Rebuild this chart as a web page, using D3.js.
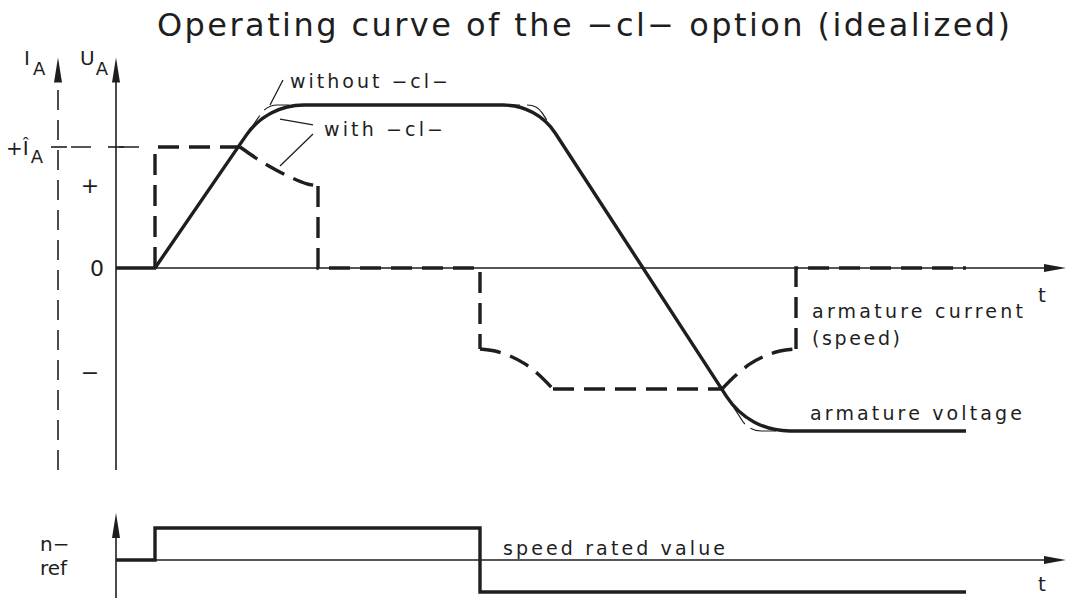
<!DOCTYPE html>
<html>
<head>
<meta charset="utf-8">
<script src="https://cdn.jsdelivr.net/npm/d3@7"></script>
<style>
  body { margin: 0; background: #fff; }
  text { font-family: "DejaVu Sans", sans-serif; font-weight: 400; fill: #1e1e1e; }
</style>
</head>
<body>
<div id="canvas"></div>
<script>
"use strict"

// DATA (time t in arbitrary units, signals normalised: current 1 = +I^A)

// armature voltage, sharp corners of the ideal trace
let voltage = [[0, 0], [3.9, 0], [15.1, 1.347], [42.1, 1.347], [63.3, -1.347], [85, -1.347]];

let currentRise = [[3.9, 0], [3.9, 1], [12.4, 1]];
let currentDecay = [[12.4, 1.0], [13.4, 0.942], [14.6, 0.876], [16.0, 0.81], [17.6, 0.744], [19.0, 0.698], [20.2, 0.678]];
let currentDrop = [[20.2, 0.678], [20.2, 0], [36.4, 0], [36.4, -0.669]];
let currentFall = [[36.4, -0.669], [37.9, -0.686], [39.4, -0.727], [40.9, -0.793], [42.2, -0.876], [43.7, -1.0]];
let currentHold = [[43.7, -1], [60.6, -1]];
let currentRecover = [[60.6, -1.0], [61.9, -0.893], [63.4, -0.793], [64.9, -0.727], [66.4, -0.686], [68.0, -0.669]];
let currentEnd = [[68, -0.669], [68, 0], [85, 0]];

// speed reference (n-ref)
let speedRef = [[0, 0], [3.9, 0], [3.9, 1], [36.4, 1], [36.4, -1], [85, -1]];

// leader lines of the two notes
let leaderWithout = [[16.7, 1.554], [15.4, 1.347]];
let leaderWith1 = [[19.7, 1.182], [16.4, 1.231]];
let leaderWith2 = [[19.7, 1.107], [16.4, 0.843]];

let titleText = "Operating curve of the \u2212cl\u2212 option (idealized)";
let noteTexts = ["without \u2212cl\u2212", "with \u2212cl\u2212"];
let traceTexts = ["armature current", "(speed)", "armature voltage", "speed rated value"];
let levelTexts = ["+", "0", "\u2212"];

// DRAWING SETUP
let svgWidth = 1071;
let svgHeight = 598;
let ink = "#1e1e1e";

let svg = d3.select("#canvas")
  .append("svg")
  .attr("width", svgWidth)
  .attr("height", svgHeight);

let x = d3.scaleLinear().domain([0, 95]).range([116, 1066]);
let yMain = d3.scaleLinear().domain([0, 1]).range([268, 147]);
let ySpeed = d3.scaleLinear().domain([0, 1]).range([560, 528]);

let iAxisT = -5.8;        // dashed current axis
let mainTop = 1.74;
let mainBottom = -1.67;
let speedTop = 1.47;
let speedBottom = -1.19;

let lineMain = d3.line().x(d => x(d[0])).y(d => yMain(d[1]));
let smoothMain = d3.line().x(d => x(d[0])).y(d => yMain(d[1])).curve(d3.curveMonotoneX);
let lineSpeed = d3.line().x(d => x(d[0])).y(d => ySpeed(d[1]));

// polyline with tangent arcs in its corners
function rounded(pts, radius) {
  let p = d3.path();
  let P = pts.map(d => [x(d[0]), yMain(d[1])]);
  p.moveTo(P[0][0], P[0][1]);
  for (let i = 1; i < P.length - 1; i++) {
    if (radius[i] > 0) {
      p.arcTo(P[i][0], P[i][1], P[i + 1][0], P[i + 1][1], radius[i]);
    } else {
      p.lineTo(P[i][0], P[i][1]);
    }
  }
  p.lineTo(P[P.length - 1][0], P[P.length - 1][1]);
  return p.toString();
}

function arrowUp(cx, tip) {
  svg.append("path")
    .attr("d", `M${cx},${tip} L${cx - 4},${tip + 25} L${cx + 4},${tip + 25} Z`)
    .attr("fill", ink);
}
function arrowRight(tip, cy) {
  svg.append("path")
    .attr("d", `M${tip},${cy} L${tip - 22},${cy - 4} L${tip - 22},${cy + 4} Z`)
    .attr("fill", ink);
}

// TITLE
svg.append("text")
  .attr("x", 157)
  .attr("y", 36)
  .attr("textLength", 853)
  .attr("lengthAdjust", "spacing")
  .style("font-size", "32px")
  .text(titleText);

// MAIN AXES
svg.append("line")
  .attr("x1", x(0)).attr("y1", yMain(mainBottom))
  .attr("x2", x(0)).attr("y2", yMain(mainTop) + 20)
  .attr("stroke", ink).attr("stroke-width", 1.6);
arrowUp(x(0), yMain(mainTop));

svg.append("line")
  .attr("x1", x(iAxisT)).attr("y1", yMain(mainBottom))
  .attr("x2", x(iAxisT)).attr("y2", yMain(mainTop) + 22)
  .attr("stroke", ink).attr("stroke-width", 1.6)
  .attr("stroke-dasharray", "20,10");
arrowUp(x(iAxisT), yMain(mainTop));

svg.append("line")
  .attr("x1", x(0)).attr("y1", yMain(0))
  .attr("x2", x(95) - 10).attr("y2", yMain(0))
  .attr("stroke", ink).attr("stroke-width", 1.6);
arrowRight(x(95), yMain(0));

// +I^A level: dashed guide and ticks
svg.append("line")
  .attr("x1", x(iAxisT) - 6).attr("y1", yMain(1))
  .attr("x2", x(3.9)).attr("y2", yMain(1))
  .attr("stroke", ink).attr("stroke-width", 1.6)
  .attr("stroke-dasharray", "0,19,20,9");
svg.append("line")
  .attr("x1", x(iAxisT) - 7).attr("y1", yMain(1))
  .attr("x2", x(iAxisT) + 9).attr("y2", yMain(1))
  .attr("stroke", ink).attr("stroke-width", 1.6);
svg.append("line")
  .attr("x1", x(0) - 8).attr("y1", yMain(1))
  .attr("x2", x(0) + 8).attr("y2", yMain(1))
  .attr("stroke", ink).attr("stroke-width", 1.6);

// axis names
let iName = svg.append("text").attr("x", 24).attr("y", yMain(mainTop) + 8).style("font-size", "20px");
iName.append("tspan").text("I");
iName.append("tspan").attr("dx", 3).attr("dy", 10).style("font-size", "18px").text("A");
let uName = svg.append("text").attr("x", 80).attr("y", yMain(mainTop) + 8).style("font-size", "20px");
uName.append("tspan").text("U");
uName.append("tspan").attr("dx", 1).attr("dy", 10).style("font-size", "18px").text("A");

let iHat = svg.append("text").attr("x", 6).attr("y", yMain(1) + 8).style("font-size", "20px");
iHat.append("tspan").text("+\u00CE");
iHat.append("tspan").attr("dx", 2).attr("dy", 8).style("font-size", "18px").text("A");

// level marks
svg.append("text").attr("x", 90).attr("y", yMain(0.67)).attr("text-anchor", "middle")
  .style("font-size", "22px").style("dominant-baseline", "middle").text(levelTexts[0]);
svg.append("text").attr("x", 97).attr("y", yMain(0) + 8).attr("text-anchor", "middle")
  .style("font-size", "22px").text(levelTexts[1]);
svg.append("text").attr("x", 90).attr("y", yMain(-0.88)).attr("text-anchor", "middle")
  .style("font-size", "22px").style("dominant-baseline", "middle").text(levelTexts[2]);

// VOLTAGE: thin ideal trace, then thick trace with -cl-
svg.append("path")
  .attr("d", rounded(voltage, [0, 0, 20, 18, 22, 0]))
  .attr("fill", "none").attr("stroke", ink).attr("stroke-width", 1.2)
  .attr("stroke-dasharray", "26,7");

svg.append("path")
  .attr("d", rounded(voltage, [0, 0, 70, 62, 75, 0]))
  .attr("fill", "none").attr("stroke", ink).attr("stroke-width", 3.4);

// CURRENT (dashed thick)
let currentPieces = [
  [currentRise, lineMain], [currentDecay, smoothMain], [currentDrop, lineMain],
  [currentFall, smoothMain], [currentHold, lineMain], [currentRecover, smoothMain], [currentEnd, lineMain]
];
for (let i = 0; i < currentPieces.length; i++) {
  svg.append("path")
    .attr("d", currentPieces[i][1](currentPieces[i][0]))
    .attr("fill", "none").attr("stroke", ink).attr("stroke-width", 3.4)
    .attr("stroke-dasharray", "21,10");
}

// leaders and notes
[leaderWithout, leaderWith1, leaderWith2].forEach(function (l) {
  svg.append("path").attr("d", lineMain(l))
    .attr("fill", "none").attr("stroke", ink).attr("stroke-width", 1.3);
});
svg.append("text").attr("x", x(17.4)).attr("y", yMain(1.488))
  .attr("textLength", 158).attr("lengthAdjust", "spacing")
  .style("font-size", "19px").text(noteTexts[0]);
svg.append("text").attr("x", x(20.8)).attr("y", yMain(1.091))
  .attr("textLength", 119).attr("lengthAdjust", "spacing")
  .style("font-size", "19px").text(noteTexts[1]);

svg.append("text").attr("x", x(69.6)).attr("y", yMain(-0.413))
  .attr("textLength", 211).attr("lengthAdjust", "spacing")
  .style("font-size", "19px").text(traceTexts[0]);
svg.append("text").attr("x", x(69.6)).attr("y", yMain(-0.636))
  .attr("textLength", 88).attr("lengthAdjust", "spacing")
  .style("font-size", "19px").text(traceTexts[1]);
svg.append("text").attr("x", x(69.4)).attr("y", yMain(-1.256))
  .attr("textLength", 212).attr("lengthAdjust", "spacing")
  .style("font-size", "19px").text(traceTexts[2]);
svg.append("text").attr("x", x(92.2)).attr("y", yMain(-0.281))
  .style("font-size", "20px").text("t");

// SPEED REFERENCE PANEL
svg.append("line")
  .attr("x1", x(0)).attr("y1", ySpeed(speedBottom))
  .attr("x2", x(0)).attr("y2", ySpeed(speedTop) + 20)
  .attr("stroke", ink).attr("stroke-width", 1.6);
arrowUp(x(0), ySpeed(speedTop));

svg.append("line")
  .attr("x1", x(0)).attr("y1", ySpeed(0))
  .attr("x2", x(95) - 10).attr("y2", ySpeed(0))
  .attr("stroke", ink).attr("stroke-width", 1.6);
arrowRight(x(95), ySpeed(0));

svg.append("path")
  .attr("d", lineSpeed(speedRef))
  .attr("fill", "none").attr("stroke", ink).attr("stroke-width", 3.4);

svg.append("text").attr("x", 40).attr("y", ySpeed(0.28)).style("font-size", "20px").text("n\u2212");
svg.append("text").attr("x", 40).attr("y", ySpeed(-0.47)).style("font-size", "20px").text("ref");
svg.append("text").attr("x", x(38.7)).attr("y", ySpeed(0.16))
  .attr("textLength", 222).attr("lengthAdjust", "spacing")
  .style("font-size", "19px").text(traceTexts[3]);
svg.append("text").attr("x", x(92.2)).attr("y", ySpeed(-0.98))
  .style("font-size", "20px").text("t");
</script>
</body>
</html>
